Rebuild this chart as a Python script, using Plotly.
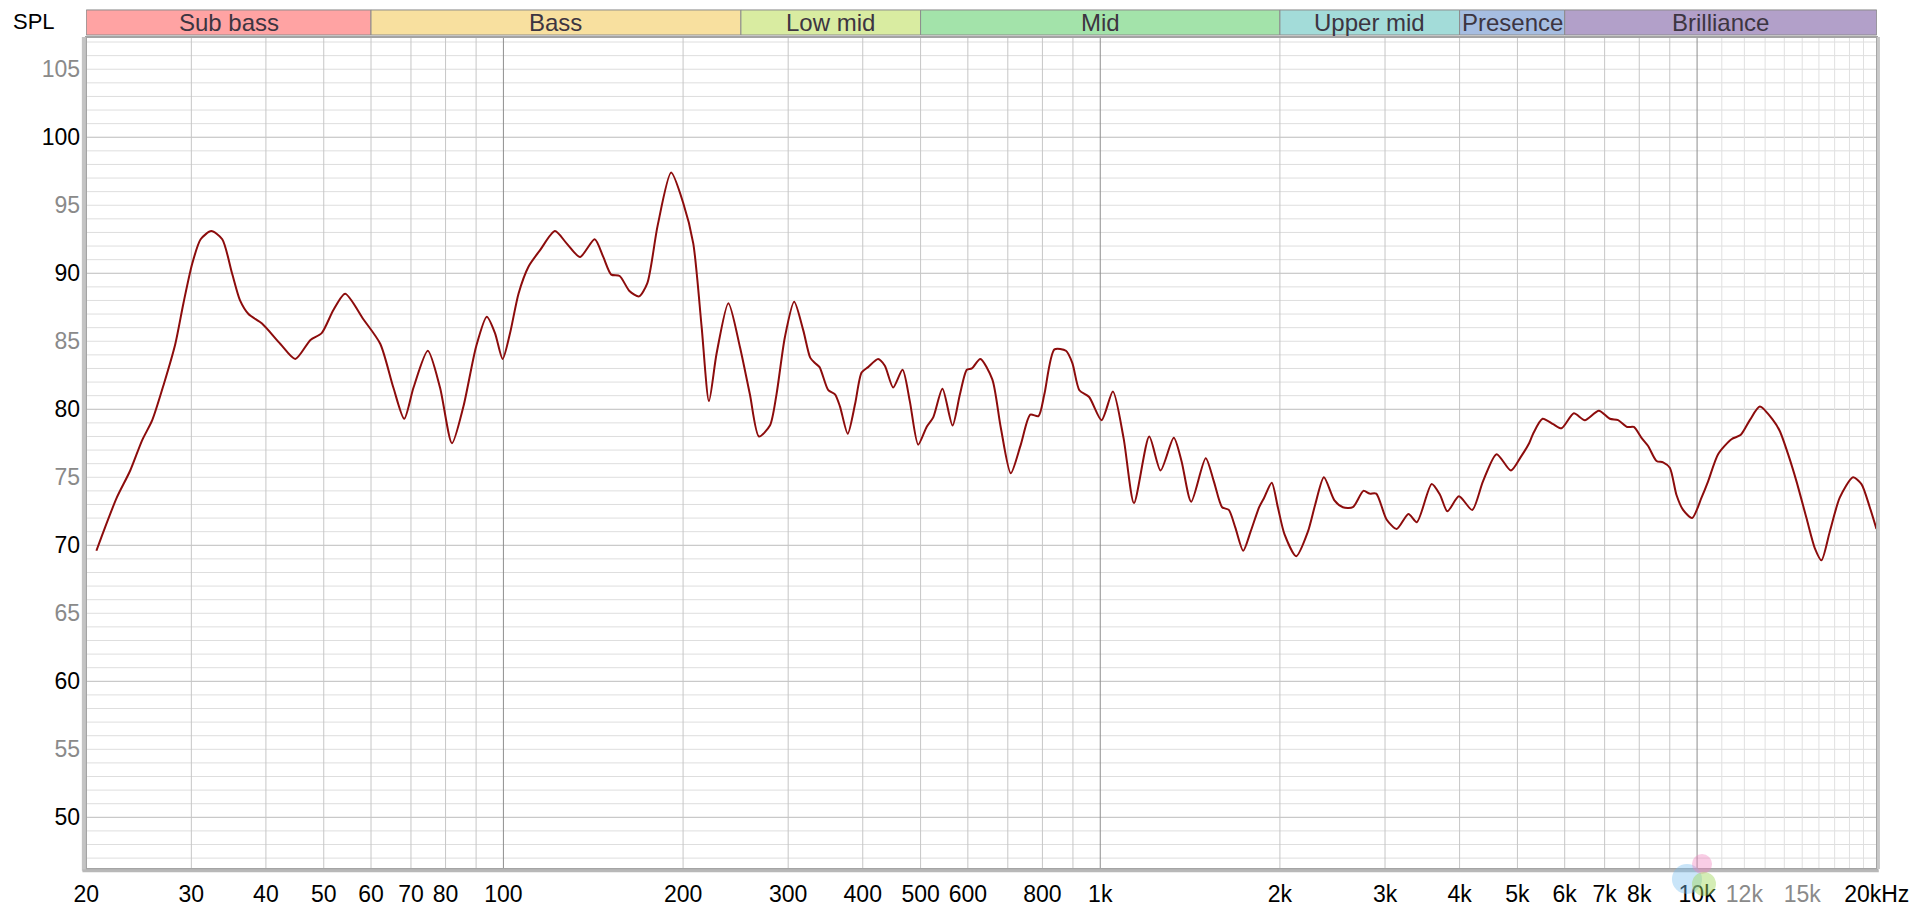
import math
import plotly.graph_objects as go

# ---------------- data ----------------
freq_hz = [
    20.8, 21.5, 22.5, 23.7, 24.8, 25.8, 27.0, 28.2, 29.1, 30.1, 31.1, 32.4, 33.8, 35.1, 36.2, 37.4,
    39.4, 42.3, 44.8, 47.5, 49.6, 51.9, 54.3, 58.3, 62.2, 65.4, 68.2, 70.7, 74.7, 78.3,
    82.0, 85.7, 90.0, 93.8, 96.8, 99.7, 102.6, 106, 110.2, 115.2, 122, 127.6, 134.4, 142.2, 147,
    151.6, 156.6, 162.6, 168.8, 174.3, 181.3, 191, 200, 208, 214.8, 221, 227.6, 238.2, 249, 258.8,
    268, 279.6, 286.8, 296.2, 307, 318,
    326.6, 332.6, 338.6, 350.2, 359.4, 366.4, 377.5, 388.4, 398.2, 408.4, 424.4, 435.6, 449.8,
    466.4, 479.6, 495.4, 511.8, 525, 544, 565.6, 582, 597.6, 609.4, 629.6, 659.4, 681, 708, 736,
    763.4, 788, 806, 838, 876, 898, 922.6, 958, 1005, 1050, 1094, 1139, 1208, 1262,
    1328, 1368, 1420, 1502, 1550, 1600, 1642, 1684, 1736, 1786, 1846, 1882, 1938, 1984, 2036,
    2130, 2228, 2292, 2370, 2468, 2550, 2650, 2760, 2826, 2900, 3018, 3138, 3284, 3392, 3592,
    3710, 3816, 3990, 4200, 4378, 4614, 4876, 5066, 5231,
    5312, 5509, 5739, 5928, 6216, 6485, 6845, 7142, 7374, 7634, 7834, 8070, 8278, 8551, 8771,
    9001, 9236, 9474, 9810, 10172, 10434, 10844, 11420, 11823, 12255, 12737, 13406, 13757,
    14205, 14673, 15250, 15746, 16158, 16684, 17339, 18252, 18853, 19467, 19976,
]
spl_db = [
    69.6, 71.3, 73.5, 75.5, 77.7, 79.2, 81.9, 84.8, 87.8, 90.7, 92.5, 93.1, 92.5, 90.0, 88.0, 87.0,
    86.3, 84.8, 83.7, 85.1, 85.6, 87.3, 88.5, 86.6, 84.8, 81.6, 79.3, 81.6, 84.3, 81.6,
    77.5, 80.2, 84.6, 86.8, 85.6, 83.7, 85.6, 88.5, 90.5, 91.7, 93.1, 92.2, 91.2, 92.5, 91.2,
    89.9, 89.8, 88.7, 88.3, 89.3, 93.5, 97.4, 95.2, 92.2, 86.1, 80.6, 84.1, 87.8, 84.6, 81.1,
    78.0, 78.8, 81.1, 85.3, 87.9, 85.8,
    83.8, 83.4, 83.1, 81.4, 81.1, 80.2, 78.2, 80.4, 82.7, 83.1, 83.7, 83.2, 81.6,
    82.9, 80.6, 77.4, 78.7, 79.4, 81.5, 78.8, 81.1, 82.9, 83.0, 83.7, 82.2, 78.7, 75.3, 77.4,
    79.6, 79.5, 81.1, 84.4, 84.3, 83.4, 81.4, 80.9, 79.2, 81.3, 77.9, 73.1, 78.0, 75.5,
    77.9, 76.2, 73.2, 76.4, 74.7, 72.8, 72.6, 71.3, 69.6, 71.0, 72.8, 73.5, 74.6, 72.8, 70.8,
    69.2, 71.0, 73.0, 75.0, 73.3, 72.8, 72.8, 74.0, 73.8, 73.8, 71.9, 71.2, 72.3, 71.7, 74.5,
    73.7, 72.5, 73.6, 72.6, 74.7, 76.7, 75.5, 76.5, 77.5,
    78.2, 79.3, 78.9, 78.6, 79.7, 79.2, 79.9, 79.3, 79.2, 78.7, 78.7, 77.9, 77.3, 76.2, 76.1,
    75.7, 73.7, 72.6, 72.0, 73.5, 74.7, 76.7, 77.8, 78.1, 79.2, 80.2, 79.2, 78.4,
    76.7, 74.7, 72.0, 69.8, 68.9, 71.0, 73.5, 75.0, 74.5, 72.8, 71.2,
]

band_names = ["Sub bass", "Bass", "Low mid", "Mid", "Upper mid", "Presence", "Brilliance"]
band_edges = [20, 60, 250, 500, 2000, 4000, 6000, 20000]
band_colors = ["#ffa3a3", "#f8e09f", "#d9eca1", "#a3e3aa", "#a3dcd9", "#a6bde1", "#b2a0c9"]

x_tick_vals = [20, 30, 40, 50, 60, 70, 80, 100, 200, 300, 400, 500, 600, 800, 1000,
               2000, 3000, 4000, 5000, 6000, 7000, 8000, 10000, 12000, 15000, 20000]
x_tick_labels = ["20", "30", "40", "50", "60", "70", "80", "100", "200", "300", "400", "500",
                 "600", "800", "1k", "2k", "3k", "4k", "5k", "6k", "7k", "8k", "10k", "12k",
                 "15k", "20kHz"]
x_grey_labels = ["12k", "15k"]

y_tick_vals = [50, 55, 60, 65, 70, 75, 80, 85, 90, 95, 100, 105]

# ---------------- styling ----------------
FONT = "Arial, Liberation Sans, sans-serif"
GREY_TXT = "#8a8a8a"
X_RANGE = [math.log10(20) - 0.0004, math.log10(20000) + 0.0004]
Y_RANGE = [46.2, 107.37]

x_text = [f"<span style='color:{GREY_TXT}'>{t}</span>" if t in x_grey_labels else t
          for t in x_tick_labels]
y_text = [str(v) if v % 10 == 0 else f"<span style='color:{GREY_TXT}'>{v}</span>"
          for v in y_tick_vals]

fig = go.Figure()
fig.add_trace(go.Scatter(
    x=freq_hz, y=spl_db, mode="lines",
    line=dict(color="#8c0c0c", width=2, shape="spline", smoothing=0.7),
    hoverinfo="x+y", showlegend=False,
))

shapes = []
# horizontal grid (every dB, darker every 10 dB)
for v in range(47, 108):
    shapes.append(dict(type="line", xref="paper", yref="y", x0=0, x1=1, y0=v, y1=v,
                       line=dict(color="#bcbcbc" if v % 10 == 0 else "#dedede", width=1),
                       layer="below"))
# vertical grid
for dec in (10, 100, 1000):
    for m in range(2, 10):
        f = m * dec
        if f <= 20:
            continue
        shapes.append(dict(type="line", xref="x", yref="paper", x0=f, x1=f, y0=0, y1=1,
                           line=dict(color="#c6c6c6", width=1), layer="below"))
for f in range(11000, 20000, 1000):
    shapes.append(dict(type="line", xref="x", yref="paper", x0=f, x1=f, y0=0, y1=1,
                       line=dict(color="#e0e0e0", width=1), layer="below"))
for f in (100, 1000, 10000):
    shapes.append(dict(type="line", xref="x", yref="paper", x0=f, x1=f, y0=0, y1=1,
                       line=dict(color="#8e8e8e", width=1), layer="below"))

# plot frame with shadow-like left / bottom edges
shapes.append(dict(type="rect", xref="paper", yref="paper", x0=0, x1=1, y0=0, y1=1,
                   line=dict(color="#a4a4a4", width=2), layer="above"))
shapes.append(dict(type="line", xref="paper", yref="paper", x0=-0.0012, x1=-0.0012, y0=-0.002, y1=1,
                   line=dict(color="#c4c4c4", width=4), layer="above"))
shapes.append(dict(type="line", xref="paper", yref="paper", x0=-0.002, x1=1.001, y0=-0.0022, y1=-0.0022,
                   line=dict(color="#b8b8b8", width=3), layer="above"))
shapes.append(dict(type="line", xref="paper", yref="paper", x0=1.0008, x1=1.0008, y0=0, y1=1,
                   line=dict(color="#c8c8c8", width=3), layer="above"))

# frequency band header
BAND_Y0, BAND_Y1 = 1.0024, 1.0325
annotations = []
for name, lo, hi, col in zip(band_names, band_edges[:-1], band_edges[1:], band_colors):
    shapes.append(dict(type="rect", xref="x", yref="paper", x0=lo, x1=hi, y0=BAND_Y0, y1=BAND_Y1,
                       fillcolor=col, line=dict(color="#8c8c8c", width=1), layer="above"))
    annotations.append(dict(x=(math.log10(lo) + math.log10(hi)) / 2, y=(BAND_Y0 + BAND_Y1) / 2,
                            xref="x", yref="paper", text=name, showarrow=False,
                            xanchor="center", yanchor="middle",
                            font=dict(family=FONT, size=24, color="#3d3541")))

annotations.append(dict(x=-0.029, y=1.0192, xref="paper", yref="paper", text="SPL",
                        showarrow=False, xanchor="center", yanchor="middle",
                        font=dict(family=FONT, size=22, color="#000000")))

# watermark blobs near 10k
for (x0, x1, y0, y1, c) in [
    (0.8855, 0.9023, -0.030, 0.006, "rgba(120,190,240,0.40)"),
    (0.8967, 0.9079, -0.006, 0.018, "rgba(240,130,190,0.40)"),
    (0.8967, 0.9101, -0.0325, -0.0036, "rgba(160,215,90,0.45)"),
]:
    shapes.append(dict(type="circle", xref="paper", yref="paper", x0=x0, x1=x1, y0=y0, y1=y1,
                       fillcolor=c, line=dict(width=0), layer="above"))

# page body has an 8px margin: size the figure so the plot area lands at
# x 86..1877 and y 37..869 of the window
fig.update_layout(
    width=1904, height=899,
    margin=dict(l=78, r=35, t=29, b=38, autoexpand=False),
    paper_bgcolor="white", plot_bgcolor="white",
    font=dict(family=FONT, size=23, color="#000000"),
    shapes=shapes, annotations=annotations,
    showlegend=False,
    xaxis=dict(type="log", range=X_RANGE, tickmode="array", tickvals=x_tick_vals,
               ticktext=x_text, showgrid=False, zeroline=False, showline=False,
               ticks="", ticklabelstandoff=9, automargin=False,
               tickfont=dict(family=FONT, size=23, color="#000000")),
    yaxis=dict(range=Y_RANGE, tickmode="array", tickvals=y_tick_vals, ticktext=y_text,
               showgrid=False, zeroline=False, showline=False, ticks="",
               ticklabelstandoff=5, automargin=False,
               tickfont=dict(family=FONT, size=23, color="#000000")),
)

fig.write_html("out.html")
